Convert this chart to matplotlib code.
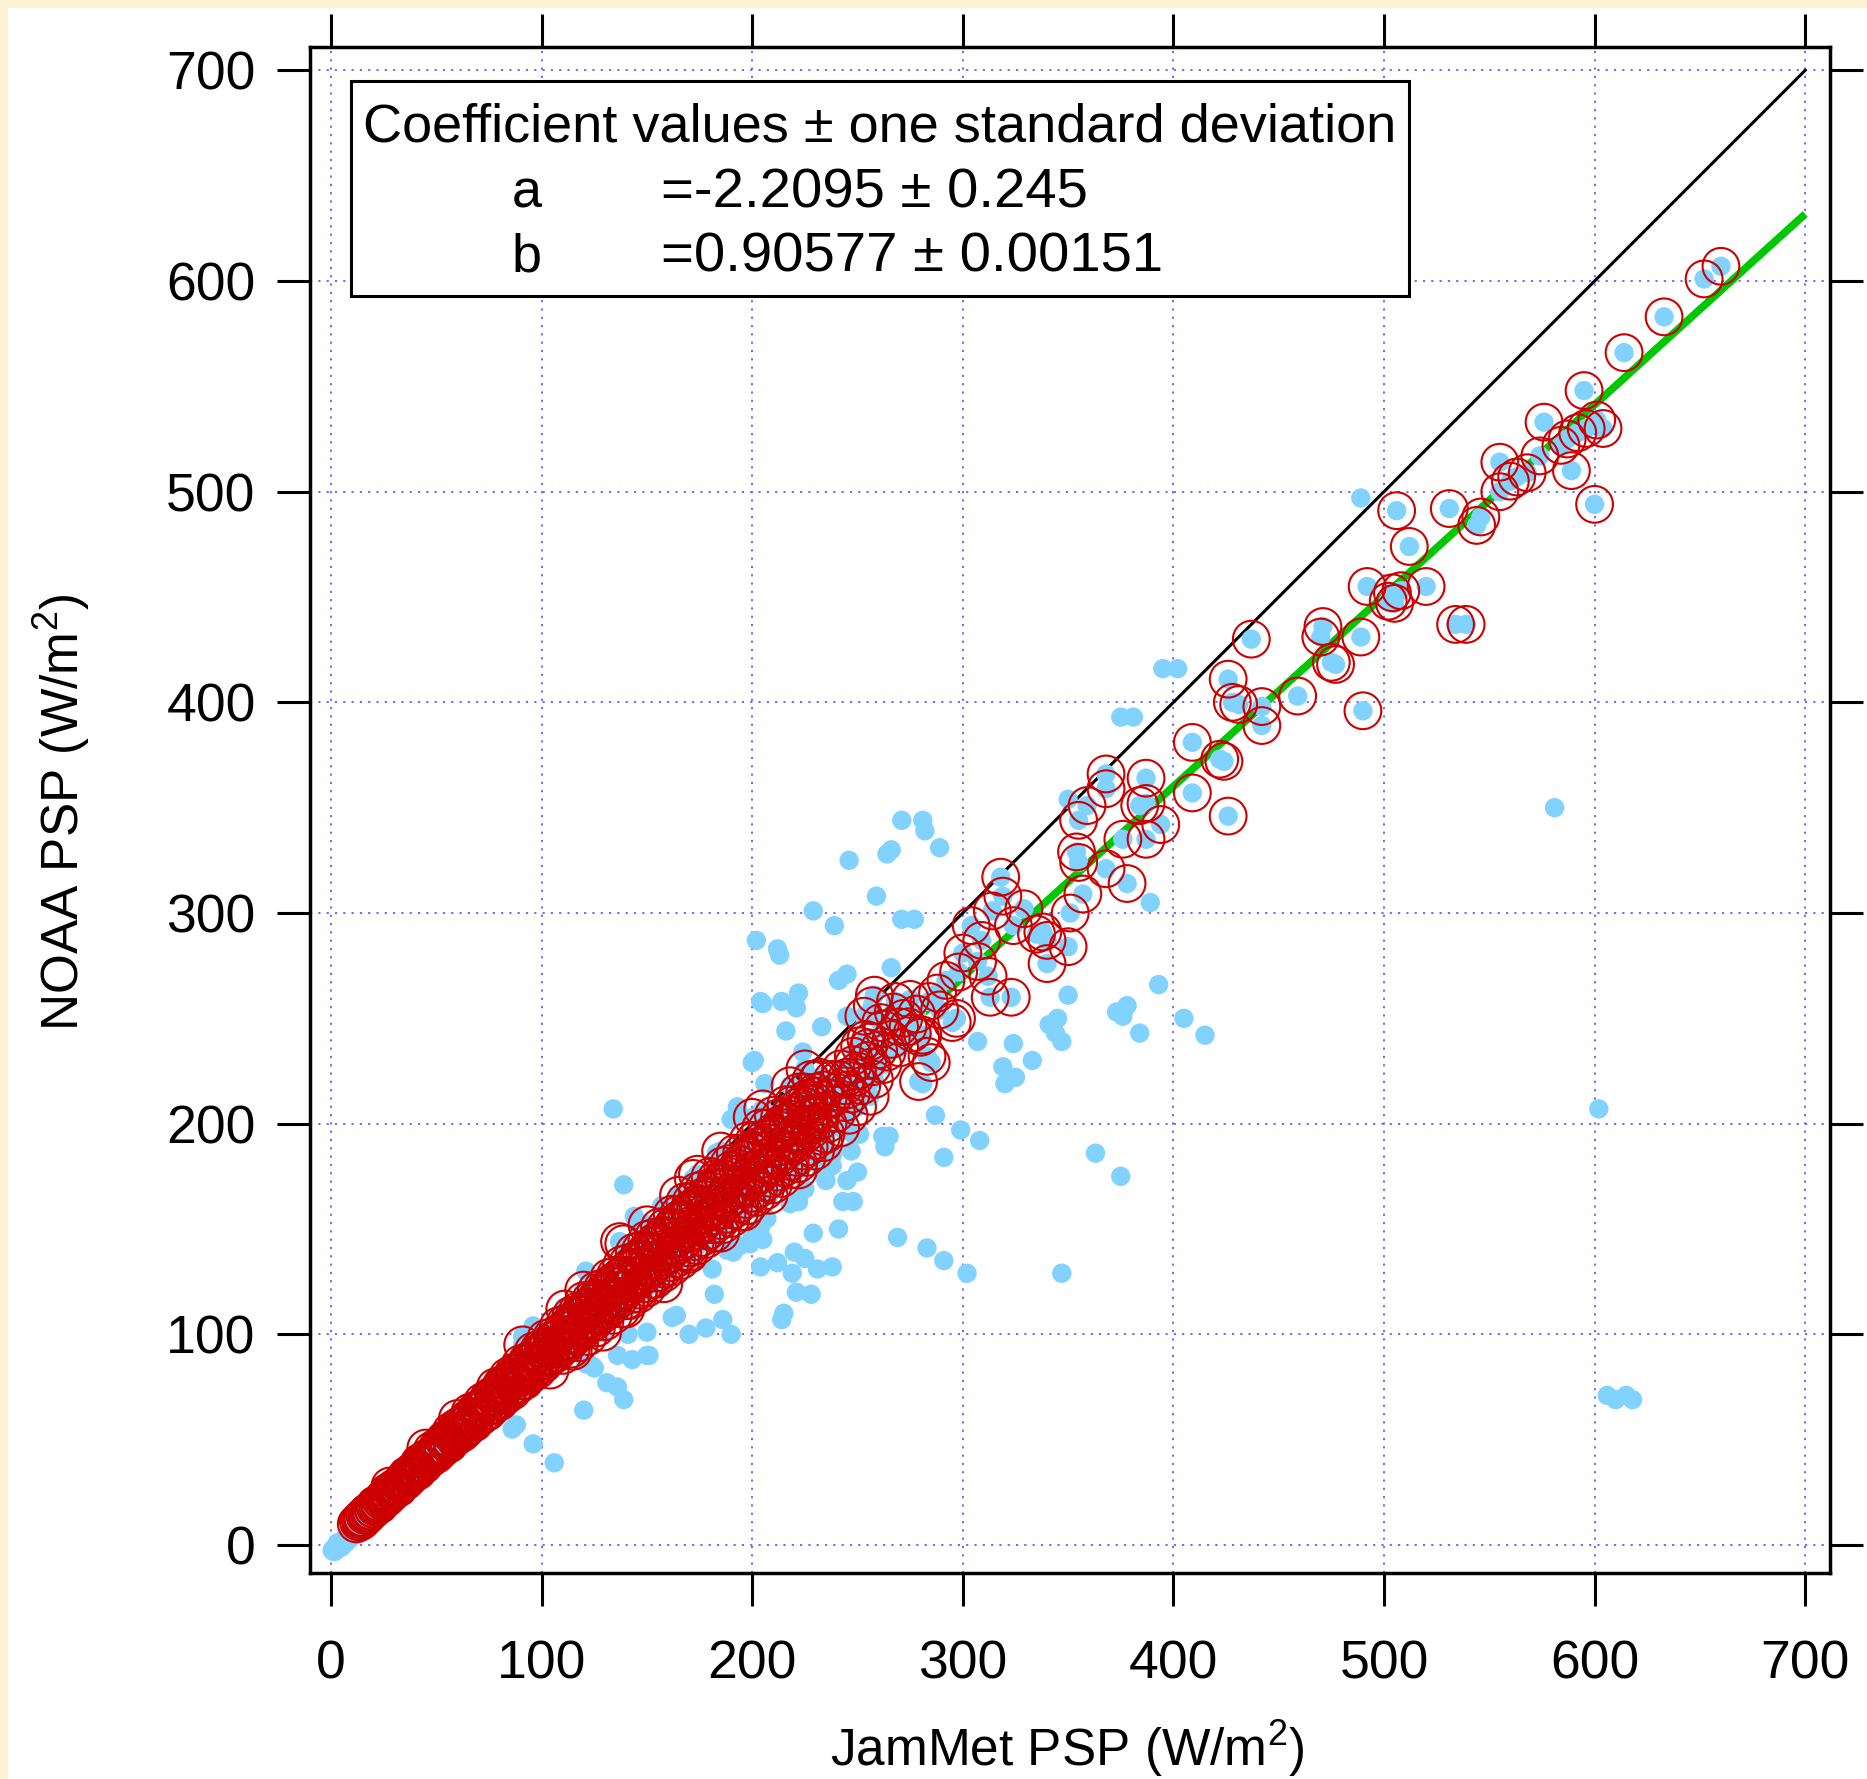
import matplotlib
matplotlib.use("Agg")
import matplotlib.pyplot as plt
from matplotlib.patches import Rectangle
import numpy as np

plt.rcParams['font.family'] = ['Liberation Sans', 'DejaVu Sans']
plt.rcParams['mathtext.fontset'] = 'custom'
plt.rcParams['mathtext.rm'] = 'Liberation Sans'
plt.rcParams['mathtext.it'] = 'Liberation Sans:italic'

# fit coefficients from the box
coef_a = -2.2095
coef_a_sd = 0.245
coef_b = 0.90577
coef_b_sd = 0.00151

# dense part of the fitted points, rows along the band
band_u_x = [12, 15, 18, 21, 24, 27, 30, 33, 36, 39, 42, 45, 48, 51, 54, 57, 60, 63, 66, 69,
            72, 75, 78, 81, 84, 87, 90, 93, 96, 99, 102, 105, 108, 111, 114, 117, 120, 123, 126, 129,
            132, 135, 138, 141, 144, 147, 150, 153, 156, 159, 162, 165, 168, 171, 174, 177, 180, 183, 186, 189,
            192, 195, 198, 201, 204, 207, 210, 213, 216, 219, 222, 225, 228, 231]
band_u_y = [10, 12, 16, 18, 21, 25, 27, 29, 33, 35, 39, 41, 45, 47, 50, 54, 56, 58, 63, 64,
            68, 70, 75, 76, 80, 82, 86, 87, 92, 93, 98, 99, 104, 105, 109, 111, 116, 116, 121, 122,
            127, 128, 133, 134, 139, 140, 145, 146, 151, 151, 157, 157, 163, 163, 168, 169, 175, 174, 180, 181,
            186, 186, 192, 192, 198, 198, 204, 203, 209, 209, 215, 215, 221, 221]
band_n_x = [14, 18, 22, 26, 30, 34, 38, 42, 46, 50, 54, 58, 62, 66, 70, 74, 78, 82, 86, 90,
            94, 98, 102, 106, 110, 114, 118, 122, 126, 130, 134, 138, 142, 146, 150, 154, 158, 162, 166, 170,
            174, 178, 182, 186, 190, 194, 198, 202, 206, 210, 214, 218, 222, 226, 230]
band_n_y = [11, 15, 19, 23, 26, 30, 34, 38, 41, 45, 49, 53, 57, 60, 64, 68, 72, 75, 79, 83,
            87, 91, 94, 98, 102, 106, 110, 113, 117, 121, 125, 128, 132, 136, 140, 144, 147, 151, 155, 159,
            162, 166, 170, 174, 178, 181, 185, 189, 193, 196, 200, 204, 208, 212, 215]
band_p_x = [15, 19, 23, 27, 31, 35, 39, 43, 47, 51, 55, 59, 63, 67, 71, 75, 79, 83, 87, 91,
            95, 99, 103, 107, 111, 115, 119, 123, 127, 131, 135, 139, 143, 147, 151, 155, 159, 163, 167, 171,
            175, 179, 183, 187, 191, 195, 199, 203, 207, 211, 215, 219, 223, 227, 231]
band_p_y = [12, 16, 20, 24, 27, 31, 35, 38, 42, 46, 50, 53, 57, 61, 65, 68, 72, 76, 79, 83,
            87, 91, 94, 98, 102, 105, 109, 113, 117, 120, 124, 128, 131, 135, 139, 143, 146, 150, 154, 158,
            161, 165, 169, 172, 176, 180, 184, 187, 191, 195, 198, 202, 206, 210, 213]
band_m_x = [13, 15, 17, 19, 21, 23, 25, 27, 29, 31, 33, 35, 37, 39, 41, 43, 45, 47, 49, 51,
            53, 55, 57, 59, 61, 63, 65, 67, 69, 71, 73, 75, 77, 79, 81, 83, 85, 87, 89, 91,
            93, 95, 97, 99, 101, 103, 105, 107, 109, 111, 113, 115, 117, 119, 121, 123, 125, 127, 129, 131,
            133, 135, 137, 139, 141, 143, 145, 147, 149, 151, 153, 155, 157, 159, 161, 163, 165, 167, 169, 171,
            173, 175, 177, 179, 181, 183, 185, 187, 189, 191, 193, 195, 197, 199, 201, 203, 205, 207, 209, 211,
            213, 215, 217, 219, 221, 223, 225, 227, 229]
band_m_y = [11, 13, 14, 16, 18, 20, 22, 23, 26, 27, 29, 31, 32, 35, 36, 38, 40, 41, 44, 45,
            47, 49, 50, 53, 56, 54, 60, 58, 64, 61, 67, 64, 71, 68, 75, 71, 79, 75, 82, 78,
            86, 82, 90, 85, 93, 89, 97, 93, 100, 96, 104, 100, 108, 103, 112, 107, 115, 110, 119, 114,
            123, 117, 127, 121, 131, 124, 135, 127, 138, 131, 142, 134, 146, 137, 149, 141, 153, 144, 157, 148,
            160, 151, 164, 155, 168, 158, 172, 162, 175, 166, 179, 169, 183, 173, 186, 176, 190, 180, 193, 184,
            197, 187, 201, 191, 204, 195, 208, 199, 211]
band_q_x = [17, 21, 25, 29, 33, 37, 41, 45, 49, 53, 57, 61, 65, 69, 73, 77, 81, 85, 89, 93,
            97, 101, 105, 109, 113, 117, 121, 125, 129, 133, 137, 141, 145, 149, 153, 157, 161, 165, 169, 173,
            177, 181, 185, 189, 193, 197, 201, 205, 209, 213, 217, 221, 225, 229, 233]
band_q_y = [15, 19, 22, 26, 29, 33, 36, 40, 43, 47, 50, 54, 58, 61, 65, 68, 72, 75, 79, 82,
            86, 89, 93, 96, 100, 104, 107, 111, 114, 118, 121, 125, 128, 132, 135, 139, 142, 146, 150, 153,
            157, 160, 164, 167, 171, 174, 178, 181, 185, 189, 192, 196, 199, 203, 206]
band_k_x = [16, 20, 24, 28, 32, 36, 40, 44, 48, 52, 56, 60, 64, 68, 72, 76, 80, 84, 88, 92,
            96, 100, 104, 108, 112, 116, 120, 124, 128, 132, 136, 140, 144, 148, 152, 156, 160, 164, 168, 172,
            176, 180, 184, 188, 192, 196, 200, 204, 208, 212, 216, 220, 224, 228, 232]
band_k_y = [14, 17, 21, 24, 28, 31, 35, 38, 42, 45, 48, 52, 55, 59, 62, 66, 69, 73, 76, 80,
            83, 87, 90, 93, 97, 100, 104, 107, 111, 114, 118, 121, 125, 128, 131, 135, 138, 142, 145, 149,
            152, 156, 159, 163, 166, 170, 173, 176, 180, 183, 187, 190, 194, 197, 201]
band_l_x = [14, 17, 20, 23, 26, 29, 32, 35, 38, 41, 44, 47, 50, 53, 56, 59, 62, 65, 68, 71,
            74, 77, 80, 83, 86, 89, 92, 95, 98, 101, 104, 107, 110, 113, 116, 119, 122, 125, 128, 131,
            134, 137, 140, 143, 146, 149, 152, 155, 158, 161, 164, 167, 170, 173, 176, 179, 182, 185, 188, 191,
            194, 197, 200, 203, 206, 209, 212, 215, 218, 221, 224, 227, 230, 233]
band_l_y = [12, 14, 17, 19, 22, 25, 27, 30, 33, 35, 38, 41, 43, 46, 48, 51, 53, 56, 58, 61,
            63, 66, 68, 71, 73, 76, 78, 81, 83, 86, 89, 91, 94, 96, 99, 101, 104, 106, 109, 111,
            114, 117, 116, 119, 121, 124, 126, 129, 131, 134, 136, 139, 141, 144, 146, 149, 152, 154, 157, 159,
            162, 164, 167, 169, 172, 174, 177, 179, 182, 184, 187, 189, 192, 194]
band_w_x = [110, 114, 118, 122, 126, 130, 134, 138, 142, 146, 150, 154, 158, 162, 166, 170,
            174, 178, 182, 186, 190, 194, 198, 202, 206, 210, 214, 218, 222, 226, 230, 234]
band_w_y = [90, 93, 96, 99, 103, 106, 109, 112, 116, 119, 122, 126, 129, 132, 135, 139,
            142, 145, 148, 152, 155, 158, 161, 165, 168, 171, 174, 178, 181, 184, 187, 191]

# sparser fitted points (circled), band edges and the upper tail
fit_x = [104, 115, 129, 140, 158, 170, 185, 196, 208, 222, 137, 139, 172, 174, 91, 111, 60, 45, 28, 200, 218,
         150, 165, 185, 205, 120, 225,
         236, 240, 244, 238, 246, 235, 242, 230, 234, 226, 228,
         240, 245, 250, 255, 260, 262, 266, 270, 272, 278, 284, 288, 292, 298, 252, 258, 236, 244, 262, 268,
         248, 241, 247, 232, 254, 274,
         323, 313, 297, 295, 285, 283, 276, 280, 267, 270, 264, 257, 253, 256, 251, 257, 248, 256, 250, 245, 242, 238, 232,
         318, 319, 314, 329, 324, 335, 340, 304, 309, 300, 307, 312, 289, 281, 279, 261, 258, 255, 249, 275,
         338, 340, 350, 351, 357, 354, 355, 368, 378, 376, 387, 384, 387, 394, 387, 368, 368, 355, 359,
         409, 422, 424, 409, 426, 426, 428, 431, 442, 442, 437, 459,
         471, 470, 475, 477, 489, 490, 492, 504, 508, 502, 505, 520, 512, 506, 531, 534, 539, 546, 544,
         555, 560, 563, 568, 574, 555, 576, 584, 587, 592, 596, 601, 604, 589, 600, 595, 614, 633, 652, 660]
fit_y = [83, 92, 101, 112, 124, 138, 148, 158, 166, 178, 144, 143, 174, 176, 95, 112, 60, 46, 28, 203, 218,
         152, 166, 187, 207, 121, 226,
         200, 205, 210, 212, 204, 195, 198, 213, 216, 208, 200,
         215, 222, 225, 230, 235, 228, 240, 236, 250, 252, 258, 262, 268, 272, 218, 221, 212, 218, 245, 258,
         228, 221, 214, 205, 240, 246,
         260, 260, 250, 248, 229, 232, 243, 241, 253, 246, 234, 256, 251, 239, 237, 227, 232, 213, 208, 216, 226, 221, 222,
         317, 308, 301, 302, 294, 290, 287, 294, 287, 281, 277, 270, 254, 242, 220, 248, 261, 236, 222, 259,
         291, 276, 284, 300, 309, 329, 324, 321, 314, 335, 335, 351, 352, 342, 364, 366, 359, 344, 351,
         381, 373, 372, 357, 346, 411, 400, 399, 398, 389, 430, 403,
         436, 431, 419, 418, 431, 396, 455, 452, 453, 448, 447, 455, 474, 491, 492, 437, 437, 488, 484,
         500, 505, 507, 509, 517, 514, 533, 522, 525, 528, 530, 534, 530, 510, 494, 548, 566, 583, 601, 607]

# points not used in the fit (blue only)
out_x = [0.5, 1, 2, 2.5, 3, 4, 5, 6, 7, 8, 9, 10, 11, 12, 13, 4, 6, 8, 10, 3,
         1, 2, 5, 7, 9, 11, 12, 14,
         96, 106, 86, 88, 120, 139, 136, 131, 125, 121, 124, 136, 143, 150, 151, 150, 141, 162, 164, 170,
         178, 186, 190, 182, 181, 121, 139, 144, 134, 146, 157, 183, 185, 193, 190, 193, 200, 206, 204, 222,
         221, 241, 233, 216, 245, 224, 201, 307, 324, 333, 319, 325, 320, 281, 287, 299, 308, 291, 262, 265,
         263, 248, 251, 247, 238, 233, 238, 235, 245, 250, 248, 225, 218, 222, 204, 207, 229, 241, 269, 283,
         291, 302, 199, 194, 188, 191, 204, 212, 219, 220, 225, 231, 238, 221, 228, 215, 214, 96, 91, 111,
         243, 200, 205, 202, 212, 213, 266, 245, 205, 214, 229, 239, 259, 271, 277, 246, 264, 266, 289, 271,
         281, 282, 375, 381, 395, 402, 489, 350, 389, 581, 602, 606, 610, 615, 618,
         350, 393, 345, 341, 344, 347, 373, 378, 376, 384, 405, 415, 363, 375, 347]
out_y = [-2.5, -2, -1.5, -0.5, -2, 0, 1, 2.5, 3, 4.5, 5, 6.5, 7, 8, 9.5, -1, 1, 3, 5, 1,
         -3, -3, -1, 1, 3, 5, 6, 8,
         48, 39, 55, 57, 64, 69, 75, 77, 84, 86, 85, 90, 88, 90, 90, 101, 100, 108, 109, 100,
         103, 107, 100, 119, 131, 130, 171, 156, 207, 152, 161, 186, 183, 208, 202, 205, 229, 219, 258, 262,
         255, 268, 246, 244, 251, 234, 230, 239, 238, 230, 227, 222, 219, 219, 204, 197, 192, 184, 194, 194,
         189, 195, 195, 187, 185, 177, 180, 173, 173, 177, 163, 169, 162, 163, 151, 155, 148, 150, 146, 141,
         135, 129, 143, 142, 140, 139, 132, 134, 129, 139, 136, 131, 132, 120, 119, 110, 107, 104, 99, 113,
         163, 147, 145, 287, 283, 280, 274, 271, 257, 258, 301, 294, 308, 297, 297, 325, 328, 330, 331, 344,
         344, 339, 393, 393, 416, 416, 497, 354, 305, 350, 207, 71, 69, 71, 69,
         261, 266, 250, 247, 243, 239, 253, 256, 251, 243, 250, 242, 186, 175, 129]

ticks = [0, 100, 200, 300, 400, 500, 600, 700]

red_x = band_u_x + band_n_x + band_p_x + band_m_x + band_q_x + band_k_x + band_l_x + band_w_x + fit_x
red_y = band_u_y + band_n_y + band_p_y + band_m_y + band_q_y + band_k_y + band_l_y + band_w_y + fit_y
blue_x = out_x + red_x
blue_y = out_y + red_y

fig = plt.figure(figsize=(18.67, 17.79), dpi=100)
fig.patch.set_facecolor('#FBF2D3')
fig.add_artist(Rectangle((8 / 1867, 0), 1, 1 - 8 / 1779, transform=fig.transFigure,
                         facecolor='white', edgecolor='none', zorder=-1))

ax = fig.add_axes([0.1658, 0.1158, 0.9802 - 0.1658, 0.9737 - 0.1158])
ax.set_xlim(-10.2, 711.8)
ax.set_ylim(-13.3, 711.2)

line_x = np.array([0, 700])
ax.plot(line_x, line_x, color='black', lw=2.2, zorder=2)
ax.plot(line_x, coef_a + coef_b * line_x, color='#00C800', lw=5.5, zorder=2.5,
        solid_capstyle='butt')

ax.scatter(blue_x, blue_y, s=195, color='#82D2FF', edgecolors='none', zorder=3)
ax.scatter(red_x, red_y, s=700, facecolors='none', edgecolors='#CC0000',
           linewidths=1.5, zorder=4)

ax.set_xticks(ticks)
ax.set_yticks(ticks)
ax.grid(True, color='#5E5EFF', lw=1.3, linestyle=(0, (1.2, 3.4)))
ax.set_axisbelow(True)
for sp in ax.spines.values():
    sp.set_linewidth(2.5)
ax.tick_params(direction='out', length=23.8, width=2.2, top=True, right=True,
               labelsize=38.5, colors='black')
ax.tick_params(axis='x', pad=24)
ax.tick_params(axis='y', pad=15)

fig.text(1067 / 1867, 1 - 1766 / 1779, r'JamMet PSP (W/m$^{2}$)', fontsize=37,
         ha='center', va='baseline')
fig.text(62 / 1867, 1 - 812 / 1779, r'NOAA PSP (W/m$^{2}$)', fontsize=37,
         rotation=90, ha='center', va='center')

# coefficient box
fig.add_artist(Rectangle((351 / 1867, 1 - 296 / 1779), (1409 - 351) / 1867, (296 - 81) / 1779,
                         transform=fig.transFigure, facecolor='white', edgecolor='black',
                         lw=2.2, zorder=10))
fig.text(363 / 1867, 1 - 142 / 1779, 'Coefficient values \u00b1 one standard deviation',
         fontsize=39, va='baseline', zorder=11)
fig.text(512 / 1867, 1 - 207 / 1779, 'a', fontsize=39, va='baseline', zorder=11)
fig.text(661 / 1867, 1 - 207 / 1779, '=%.4f \u00b1 %.3f' % (coef_a, coef_a_sd),
         fontsize=40.5, va='baseline', zorder=11)
fig.text(512 / 1867, 1 - 272 / 1779, 'b', fontsize=39, va='baseline', zorder=11)
fig.text(661 / 1867, 1 - 272 / 1779, '=%.5f \u00b1 %.5f' % (coef_b, coef_b_sd),
         fontsize=40.5, va='baseline', zorder=11)

fig.savefig('out.png', dpi=100, facecolor=fig.get_facecolor())
